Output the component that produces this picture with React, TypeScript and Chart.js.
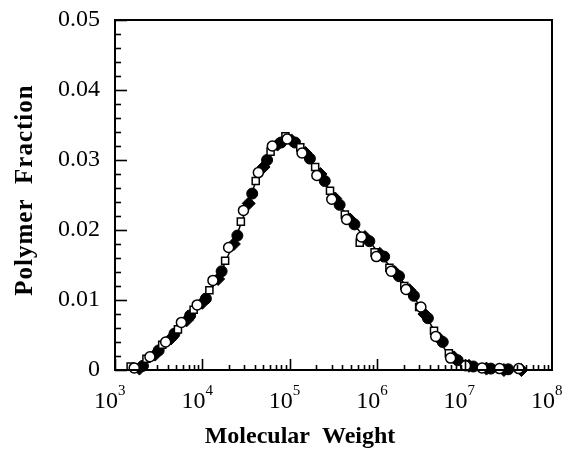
import React, { useEffect, useRef } from "react";
import { Chart, registerables } from "chart.js";

Chart.register(...registerables);

// ---- data (molecular weight, polymer fraction) ----
const openCircleMW = [1660, 2510, 3800, 5750, 8710, 13200, 19950, 29500, 43650, 63100, 93300, 138000, 204000, 302000, 447000, 661000, 977000, 1445000, 2138000, 3162000, 4677000, 6918000, 10230000, 15850000, 25120000, 41690000];
const openCircleFrac = [0.0003, 0.0019, 0.0040, 0.0068, 0.0093, 0.0128, 0.0175, 0.0228, 0.0282, 0.0320, 0.0330, 0.0310, 0.0278, 0.0244, 0.0215, 0.0190, 0.0162, 0.0141, 0.0115, 0.0090, 0.0048, 0.0017, 0.0006, 0.0003, 0.0002, 0.0002];

const filledCircleMW = [2090, 3160, 4790, 7240, 10960, 16600, 25120, 37150, 54950, 79430, 114800, 169800, 251200, 371500, 549500, 812800, 1202000, 1778000, 2630000, 3802000, 5623000, 8318000, 12590000, 19950000, 31620000];
const filledCircleFrac = [0.0006, 0.0028, 0.0052, 0.0078, 0.0102, 0.0141, 0.0192, 0.0252, 0.0300, 0.0325, 0.0325, 0.0302, 0.0270, 0.0236, 0.0208, 0.0184, 0.0162, 0.0134, 0.0106, 0.0074, 0.0040, 0.0014, 0.0005, 0.0002, 0.0001];

const openSquareMW = [1510, 2290, 3470, 5250, 7940, 12020, 18200, 27540, 40740, 60260, 89130, 131800, 195000, 288400, 426600, 631000, 933300, 1380000, 2042000, 3020000, 4467000, 6607000, 10000000];
const openSquareFrac = [0.0005, 0.0016, 0.0036, 0.0058, 0.0086, 0.0114, 0.0156, 0.0212, 0.0270, 0.0312, 0.0334, 0.0318, 0.0290, 0.0256, 0.0222, 0.0182, 0.0168, 0.0146, 0.0120, 0.0090, 0.0056, 0.0024, 0.0008];

const filledSquareMW = [1905, 2880, 4365, 6610, 10000, 15140, 22910, 33880, 50120, 72440, 104700, 151400, 223900, 331100, 489800, 724400, 1072000, 1585000, 2344000, 3467000, 5129000, 7586000, 11220000, 17780000, 28180000, 44670000];
const filledSquareFrac = [0.0002, 0.0022, 0.0045, 0.0071, 0.0096, 0.0130, 0.0180, 0.0238, 0.0290, 0.0322, 0.0328, 0.0310, 0.0280, 0.0245, 0.0215, 0.0190, 0.0166, 0.0140, 0.0114, 0.0080, 0.0045, 0.0018, 0.0006, 0.0002, 0.0000, 0.0000];

const lineMW = [1585, 1995, 2512, 3162, 3981, 5012, 6310, 7943, 10000, 12590, 15850, 19950, 25120, 31620, 39810, 50120, 63100, 79430, 100000, 125900, 158500, 199500, 251200, 316200, 398100, 501200, 631000, 794300, 1000000, 1259000, 1585000, 1995000, 2512000, 3162000, 3981000, 5012000, 6310000, 7943000, 10000000, 12590000, 15850000, 19950000, 25120000, 31620000, 39810000];
const lineFrac = [0.0000, 0.0005, 0.0017, 0.0030, 0.0042, 0.0055, 0.0070, 0.0084, 0.0097, 0.0115, 0.0137, 0.0165, 0.0195, 0.0230, 0.0265, 0.0293, 0.0314, 0.0326, 0.0328, 0.0322, 0.0306, 0.0288, 0.0268, 0.0248, 0.0230, 0.0213, 0.0198, 0.0185, 0.0170, 0.0155, 0.0140, 0.0125, 0.0108, 0.0088, 0.0068, 0.0045, 0.0025, 0.0013, 0.0007, 0.0005, 0.0003, 0.0002, 0.0001, 0.0001, 0.0000];

const xExponents = [3, 4, 5, 6, 7, 8];
const yTickValues = [0, 0.01, 0.02, 0.03, 0.04, 0.05];
const xTitle = "Molecular  Weight";
const yTitle = "Polymer  Fraction";

const SERIF = "'Liberation Serif', 'Times New Roman', serif";

const pts = (xs: number[], ys: number[]) => xs.map((x, i) => ({ x, y: ys[i] }));

const framePlugin = {
  id: "framePlugin",
  afterDraw(chart: any) {
    const { ctx, chartArea } = chart;
    const xs = chart.scales.x;
    const ys = chart.scales.y;
    const { left, right, top, bottom } = chartArea;
    ctx.save();
    ctx.strokeStyle = "#000";
    ctx.lineWidth = 2;
    ctx.strokeRect(left, top, right - left, bottom - top);

    // y ticks (inward, on left axis)
    ctx.lineWidth = 1.6;
    for (let i = 0; i <= 25; i++) {
      const v = i * 0.002;
      const py = Math.round(ys.getPixelForValue(v)) + 0.5;
      const len = i % 5 === 0 ? 12 : 6;
      ctx.beginPath();
      ctx.moveTo(left, py);
      ctx.lineTo(left + len, py);
      ctx.stroke();
    }
    // x ticks (inward, on bottom axis)
    for (let d = 3; d <= 7; d++) {
      for (let m = 1; m <= 9; m++) {
        const v = m * Math.pow(10, d);
        const px = Math.round(xs.getPixelForValue(v)) + 0.5;
        const len = m === 1 ? 11 : 5;
        ctx.beginPath();
        ctx.moveTo(px, bottom);
        ctx.lineTo(px, bottom - len);
        ctx.stroke();
      }
    }

    // x tick labels 10^n
    ctx.fillStyle = "#000";
    ctx.textBaseline = "alphabetic";
    xExponents.forEach((e) => {
      const px = xs.getPixelForValue(Math.pow(10, e));
      ctx.font = `24px ${SERIF}`;
      ctx.textAlign = "right";
      ctx.fillText("10", px + 3, bottom + 38);
      ctx.font = `15px ${SERIF}`;
      ctx.textAlign = "left";
      ctx.fillText(String(e), px + 3, bottom + 25);
    });

    // axis titles
    ctx.font = `bold 24px ${SERIF}`;
    ctx.textAlign = "center";
    ctx.textBaseline = "middle";
    ctx.fillText(xTitle, 300, 437);
    ctx.save();
    ctx.font = `bold 25px ${SERIF}`;
    try {
      (ctx as any).letterSpacing = "1px";
    } catch (e) {}
    ctx.translate(26, 190);
    ctx.rotate(-Math.PI / 2);
    ctx.fillText(yTitle, 0, 0);
    ctx.restore();
    ctx.restore();
  },
};

export default function App() {
  const ref = useRef<HTMLCanvasElement | null>(null);
  useEffect(() => {
    if (!ref.current) return;
    const chart = new Chart(ref.current, {
      type: "scatter",
      data: {
        datasets: [
          {
            label: "open circles",
            data: pts(openCircleMW, openCircleFrac),
            pointStyle: "circle",
            pointRadius: 5,
            backgroundColor: "#fff",
            borderColor: "#000",
            borderWidth: 1.5,
            clip: false,
          } as any,
          {
            label: "open squares",
            data: pts(openSquareMW, openSquareFrac),
            pointStyle: "rect",
            pointRadius: 5,
            backgroundColor: "#fff",
            borderColor: "#000",
            borderWidth: 1.5,
            clip: false,
          },
          {
            label: "filled circles",
            data: pts(filledCircleMW, filledCircleFrac),
            pointStyle: "circle",
            pointRadius: 5.5,
            backgroundColor: "#000",
            borderColor: "#000",
            borderWidth: 1,
            clip: false,
          },
          {
            label: "filled squares",
            data: pts(filledSquareMW, filledSquareFrac),
            pointStyle: "rectRot",
            pointRadius: 6.5,
            backgroundColor: "#000",
            borderColor: "#000",
            borderWidth: 1,
            clip: false,
          },
          {
            label: "fit",
            type: "line",
            data: pts(lineMW, lineFrac),
            pointRadius: 0,
            borderColor: "#000",
            borderWidth: 1.5,
            tension: 0.3,
            fill: false,
            clip: false,
          } as any,
        ],
      },
      options: {
        animation: false,
        responsive: false,
        layout: { padding: { left: 0, right: 26, top: 20, bottom: 0 } },
        plugins: { legend: { display: false }, tooltip: { enabled: false } },
        scales: {
          x: {
            type: "logarithmic",
            min: 1000,
            max: 100000000,
            grid: { display: false, drawTicks: false },
            border: { display: false },
            ticks: { display: false },
            afterFit: (s: any) => {
              s.height = 83;
              s.paddingLeft = 0;
              s.paddingRight = 0;
            },
          },
          y: {
            type: "linear",
            min: 0,
            max: 0.05,
            afterBuildTicks: (s: any) => {
              s.ticks = yTickValues.map((v) => ({ value: v }));
            },
            grid: { display: false, drawTicks: false },
            border: { display: false },
            ticks: {
              padding: 15,
              color: "#000",
              font: { family: SERIF, size: 24 },
              callback: (v: any) => (Number(v) === 0 ? "0" : Number(v).toFixed(2)),
            },
            afterFit: (s: any) => {
              s.width = 115;
              s.paddingTop = 0;
              s.paddingBottom = 0;
            },
          },
        },
      },
      plugins: [framePlugin],
    });
    return () => chart.destroy();
  }, []);
  return (
    <div style={{ position: "fixed", left: 0, top: 0, width: 578, height: 453, background: "#fff" }}>
      <canvas ref={ref} width={578} height={453} style={{ display: "block" }} />
    </div>
  );
}
